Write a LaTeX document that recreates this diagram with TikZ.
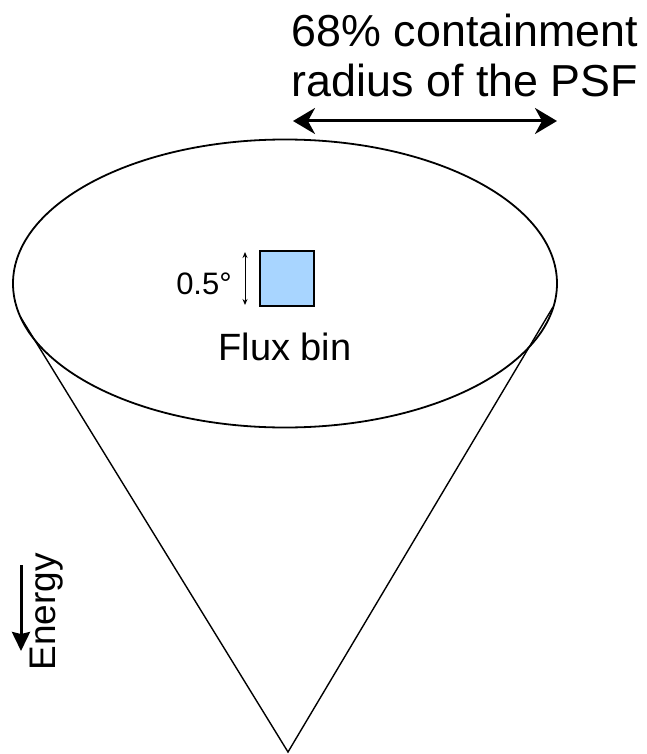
\documentclass[tikz,border=0pt]{standalone}
\usepackage{fontspec}
\setmainfont{Liberation Sans}
\usetikzlibrary{arrows.meta}
\definecolor{binblue}{HTML}{A8D5FF}
\tikzset{
  outline/.style={draw=black, line width=1.8pt},
  conel/.style={draw=black, line width=1.4pt},
  bigarrow/.style={line width=3pt, {Stealth[length=22pt,width=26pt,inset=7pt]}-{Stealth[length=22pt,width=26pt,inset=7pt]}},
  energyarrow/.style={line width=3pt, -{Stealth[length=19pt,width=18pt,inset=2pt]}},
  smallarrow/.style={line width=1pt, {Stealth[length=6pt,width=5pt]}-{Stealth[length=6pt,width=5pt]}},
  binbox/.style={draw=black, line width=1.5pt, fill=binblue},
  lbl/.style={inner sep=0pt, anchor=base, text=black}
}
\begin{document}
\begin{tikzpicture}[x=1pt,y=-1pt]
\useasboundingbox (0,0) rectangle (646,754);
% ellipse (top of cone)
\draw[outline] (285,283.5) ellipse [x radius=272, y radius=144];
% cone sides
\coordinate (cl) at (20.5,317);
\coordinate (cr) at (553,307);
\coordinate (apex) at (288,752);
\draw[conel] (cl) -- (apex) -- (cr);
% title
\node[lbl, font=\fontsize{44.8}{50}\selectfont] (t1) at (465,47) {68\% containment};
\node[lbl, font=\fontsize{44.8}{50}\selectfont] (t2) at (465,97) {radius of the PSF};
\coordinate (al) at (293,121);
\coordinate (ar) at (557,121);
\draw[bigarrow] (al) -- (ar);
% flux bin
\node[binbox, minimum width=54pt, minimum height=55pt, inner sep=0pt] (bin) at (287,278.5) {};
\coordinate (sa) at (245,252);
\coordinate (sb) at (245,305);
\draw[smallarrow] (sa) -- (sb);
\node[lbl, font=\fontsize{31}{36}\selectfont] (deg) at (204,294) {0.5°};
\node[lbl, font=\fontsize{38}{44}\selectfont] (flux) at (285,360) {Flux bin};
% energy
\coordinate (e1) at (21,565);
\coordinate (e2) at (21,651);
\draw[energyarrow] (e1) -- (e2);
\node[lbl, rotate=90, font=\fontsize{37}{44}\selectfont] (en) at (55,612) {Energy};
\end{tikzpicture}
\end{document}
